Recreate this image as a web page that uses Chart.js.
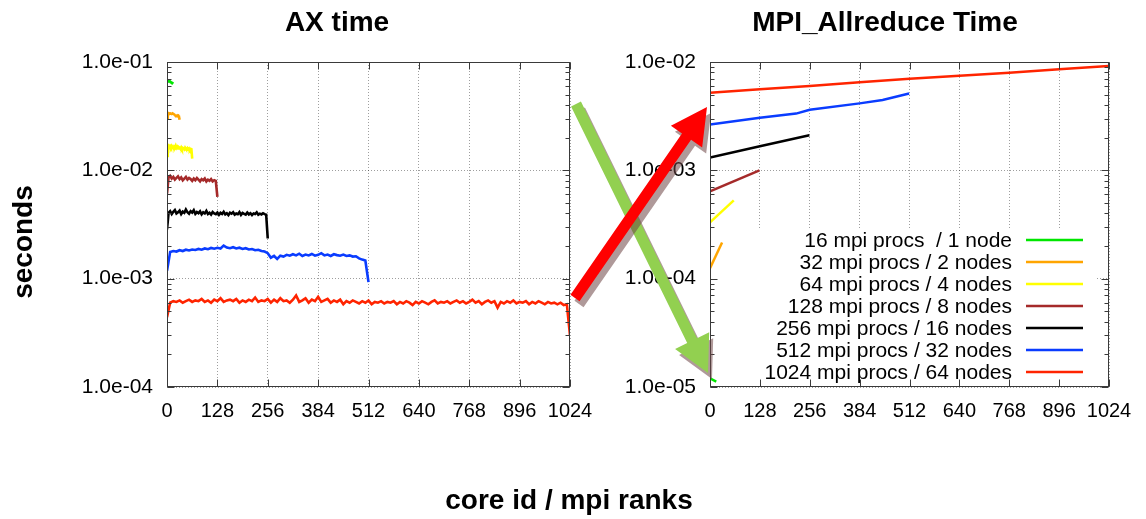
<!DOCTYPE html>
<html><head><meta charset="utf-8">
<script src="https://cdn.jsdelivr.net/npm/chart.js@4/dist/chart.umd.min.js"></script>
<style>
html,body{margin:0;padding:0;background:#fff;width:1146px;height:519px;overflow:hidden;}
#wrap{position:relative;width:1146px;height:519px;font-family:"Liberation Sans",Arial,Helvetica,sans-serif;}
canvas{position:absolute;top:0;}
#c1{left:0;z-index:1;} #c2{left:580px;}
#overlay{left:0;pointer-events:none;z-index:5;}
.lbl{position:absolute;font-weight:bold;font-size:28px;line-height:28px;color:#000;white-space:nowrap;transform:translateX(-50%);z-index:2;}
#ylab{transform:translate(-50%,-50%) rotate(-90deg);}
</style></head>
<body><div id="wrap">
<div class="lbl" style="left:337px;top:8px;">AX time</div>
<div class="lbl" style="left:885px;top:8px;">MPI_Allreduce Time</div>
<div class="lbl" style="left:569px;top:486px;">core id / mpi ranks</div>
<div class="lbl" id="ylab" style="left:23px;top:242px;">seconds</div>
<canvas id="c1" width="610" height="519"></canvas>
<canvas id="c2" width="566" height="519"></canvas>
<canvas id="overlay" width="1146" height="519"></canvas>
</div>
<script>
// ---------- data ----------
const seriesLabels = ['16 mpi procs  / 1 node','32 mpi procs / 2 nodes','64 mpi procs / 4 nodes','128 mpi procs / 8 nodes','256 mpi procs / 16 nodes','512 mpi procs / 32 nodes','1024 mpi procs / 64 nodes'];
const xTickValues = [0,128,256,384,512,640,768,896,1024];
const axYTicks = [1e-4,1e-3,1e-2,1e-1];
const mpiYTicks = [1e-5,1e-4,1e-3,1e-2];

// AX time per core id (milliseconds), sampled every axStep ranks
const axStep = [2,2,2,4,4,8,8];
const axTime16 = [68.0,67.2,66.5,66.8,65.9,65.0,64.6,63.8,63.0];
const axTime32 = [30.3,33.0,33.6,33.2,33.5,33.4,33.1,33.6,33.3,32.9,32.6,31.8,32.0,31.7,32.2,31.9,29.3];
const axTime64 = [13.6,16.6,16.9,16.3,16.7,16.2,16.8,16.4,16.0,16.6,16.3,16.9,16.1,16.5,15.9,16.4,16.2,15.8,16.3,15.7,16.1,15.9,15.6,16.2,15.8,15.5,16.0,15.6,15.9,15.4,15.8,15.7,12.8];
const axTime128 = [6.1,8.6,8.9,8.4,8.7,8.2,8.5,8.8,8.3,8.6,8.1,8.4,8.7,8.2,8.5,8.3,8.0,8.4,8.1,8.5,8.2,7.9,8.3,8.1,8.4,7.9,8.2,8.0,8.3,7.9,8.1,8.0,5.7];
const axTime256 = [2.85,4.05,4.20,3.95,4.15,4.30,4.00,4.10,4.25,3.95,4.15,4.05,4.35,4.10,3.98,4.20,4.08,4.28,3.96,4.12,4.02,4.18,3.92,4.10,4.00,4.22,3.95,4.06,3.90,4.12,4.00,3.94,4.08,3.88,4.05,3.96,4.14,3.92,4.02,3.86,4.06,3.98,4.10,3.90,4.00,3.94,4.12,3.88,4.04,3.96,3.90,4.08,3.92,4.02,3.86,4.00,3.95,4.10,3.90,3.98,3.92,4.02,3.94,3.90,2.35];
const axTime512 = [1.18,1.76,1.80,1.78,1.83,1.80,1.85,1.82,1.86,1.84,1.88,1.85,1.90,1.87,1.92,1.89,1.93,1.90,2.02,1.94,1.91,1.95,1.90,1.93,1.88,1.91,1.86,1.88,1.83,1.85,1.80,1.78,1.72,1.56,1.62,1.52,1.63,1.60,1.66,1.63,1.68,1.64,1.70,1.62,1.67,1.64,1.69,1.63,1.66,1.72,1.64,1.67,1.62,1.68,1.65,1.63,1.67,1.62,1.64,1.60,1.61,1.54,1.50,1.47,0.93];
const axTime1024 = [0.44,
0.60,0.62,0.61,0.63,0.60,0.62,0.64,0.61,0.63,0.62,
0.65,0.61,0.63,0.60,0.64,0.62,0.66,0.61,0.63,0.64,
0.62,0.65,0.60,0.63,0.61,0.64,0.62,0.67,0.61,0.63,
0.62,0.65,0.60,0.64,0.61,0.66,0.62,0.63,0.60,0.64,
0.70,0.61,0.63,0.66,0.60,0.64,0.62,0.68,0.61,0.63,
0.65,0.60,0.63,0.61,0.64,0.58,0.62,0.60,0.63,0.61,
0.59,0.62,0.60,0.63,0.58,0.61,0.60,0.62,0.59,0.61,
0.60,0.62,0.58,0.61,0.59,0.62,0.60,0.57,0.61,0.59,
0.62,0.60,0.58,0.61,0.63,0.59,0.61,0.60,0.62,0.59,
0.61,0.63,0.60,0.62,0.59,0.61,0.64,0.60,0.62,0.58,
0.61,0.63,0.60,0.62,0.54,0.61,0.59,0.62,0.60,0.63,
0.59,0.61,0.60,0.62,0.58,0.61,0.59,0.62,0.60,0.58,
0.61,0.59,0.60,0.58,0.60,0.57,0.58,
0.30];
const axTimes = [axTime16,axTime32,axTime64,axTime128,axTime256,axTime512,axTime1024];

// MPI_Allreduce time (milliseconds) at given ranks
const mpiRanks16 = [0,16],   mpiTime16 = [0.0120,0.0112];
const mpiRanks32 = [0,31],   mpiTime32 = [0.125,0.216];
const mpiRanks64 = [0,61],   mpiTime64 = [0.331,0.528];
const mpiRanks128 = [0,127], mpiTime128 = [0.64,1.0];
const mpiRanks256 = [0,128,255], mpiTime256 = [1.31,1.67,2.11];
const mpiRanks512 = [0,128,221,256,384,443,511], mpiTime512 = [2.65,3.06,3.34,3.63,4.15,4.46,5.11];
const mpiRanks1024 = [0,128,256,384,512,640,768,896,1023], mpiTime1024 = [5.21,5.6,6.0,6.5,7.0,7.45,7.95,8.55,9.2];
const mpiRanks = [mpiRanks16,mpiRanks32,mpiRanks64,mpiRanks128,mpiRanks256,mpiRanks512,mpiRanks1024];
const mpiTimes = [mpiTime16,mpiTime32,mpiTime64,mpiTime128,mpiTime256,mpiTime512,mpiTime1024];

// ---------- styles ----------
const seriesColors = ['#00e600','#ffa500','#ffff00','#a52a2a','#000000','#0a3cff','#ff2400'];
const FAMILY = '"Liberation Sans", Arial, Helvetica, sans-serif';

function fmtExp(v){
  const e = Math.round(Math.log10(v));
  return '1.0e' + (e<0?'-':'+') + String(Math.abs(e)).padStart(2,'0');
}

const framePlugin = {
  id:'frame',
  afterDatasetsDraw(chart){
    const {ctx, chartArea:a} = chart;
    const x = chart.scales.x, y = chart.scales.y;
    ctx.save();
    ctx.strokeStyle = '#3a3a3a'; ctx.lineWidth = 1;
    const L = Math.round(a.left)+0.5, R = Math.round(a.right)-0.5, T = Math.round(a.top)+0.5, B = Math.round(a.bottom)-0.5;
    ctx.strokeRect(L, T, R-L, B-T);
    ctx.beginPath();
    const e0 = Math.round(Math.log10(y.min)), e1 = Math.round(Math.log10(y.max));
    for (let e=e0; e<=e1; e++){
      for (let k=1; k<=9; k++){
        if (e===e1 && k>1) break;
        const v = k*Math.pow(10,e);
        const py = Math.round(y.getPixelForValue(v))+0.5;
        const len = k===1 ? 7 : 4;
        ctx.moveTo(L, py); ctx.lineTo(L+len, py);
        ctx.moveTo(R, py); ctx.lineTo(R-len, py);
      }
    }
    xTickValues.forEach(v=>{
      const px = Math.round(x.getPixelForValue(v))+0.5;
      ctx.moveTo(px, B); ctx.lineTo(px, B-7);
      ctx.moveTo(px, T); ctx.lineTo(px, T+7);
    });
    ctx.stroke();
    ctx.restore();
  }
};

const legendPlugin = {
  id:'keybox',
  beforeDatasetsDraw(chart){
    const {ctx, chartArea:a} = chart;
    const o = chart.options.plugins.keybox;
    ctx.save();
    ctx.fillStyle = '#fff';
    ctx.fillRect(a.left+1, o.top, o.right - a.left - 1, a.bottom - o.top - 1);
    ctx.restore();
  },
  afterDraw(chart){
    const {ctx} = chart;
    const o = chart.options.plugins.keybox;
    ctx.save();
    ctx.font = '21px ' + FAMILY;
    ctx.textAlign = 'right'; ctx.textBaseline = 'alphabetic';
    chart.data.datasets.forEach((ds,i)=>{
      const ly = o.firstRow + i*o.rowGap;
      ctx.fillStyle = '#000';
      ctx.fillText(ds.label, o.textRight, ly + 7);
      ctx.strokeStyle = ds.borderColor; ctx.lineWidth = 2.5;
      ctx.beginPath(); ctx.moveTo(o.lineFrom, ly); ctx.lineTo(o.lineTo, ly); ctx.stroke();
    });
    ctx.restore();
  }
};

function makeOptions(yMin, yMax, yTicks, yWidth, padRight, extraPlugins){
  return {
    responsive:false, animation:false, devicePixelRatio:1,
    layout:{padding:{left:0, top:62, right:padRight, bottom:0}},
    plugins:Object.assign({legend:{display:false}, tooltip:{enabled:false}, title:{display:false}}, extraPlugins||{}),
    elements:{point:{radius:0}, line:{tension:0}},
    scales:{
      x:{type:'linear', min:0, max:1024,
        afterBuildTicks:s=>{ s.ticks = xTickValues.map(v=>({value:v})); },
        afterFit:s=>{ s.height = 519-387; s.paddingLeft = 0; s.paddingRight = 0; },
        grid:{color:'rgba(0,0,0,0.38)', lineWidth:1, drawTicks:false},
        border:{display:false, dash:[1,2]},
        ticks:{padding:12, color:'#000', font:{size:20, family:FAMILY}, maxRotation:0, autoSkip:false, callback:v=>String(v)}
      },
      y:{type:'logarithmic', min:yMin, max:yMax,
        afterBuildTicks:s=>{ s.ticks = yTicks.map(v=>({value:v})); },
        afterFit:s=>{ s.width = yWidth; s.paddingTop = 0; s.paddingBottom = 0; },
        grid:{color:'rgba(0,0,0,0.38)', lineWidth:1, drawTicks:false},
        border:{display:false, dash:[1,2]},
        ticks:{padding:14, color:'#000', font:{size:21, family:FAMILY}, autoSkip:false, callback:v=>fmtExp(v)}
      }
    }
  };
}

const axDatasets = axTimes.map((vals,i)=>({
  label:seriesLabels[i], borderColor:seriesColors[i], borderWidth:2.6, fill:false,
  data:vals.map((v,j)=>({x:j*axStep[i], y:v/1000}))
}));
const mpiDatasets = mpiTimes.map((vals,i)=>({
  label:seriesLabels[i], borderColor:seriesColors[i], borderWidth:2.5, fill:false,
  data:vals.map((v,j)=>({x:mpiRanks[i][j], y:v/1000}))
}));

new Chart(document.getElementById('c1'), {
  type:'line', data:{datasets:axDatasets},
  options:makeOptions(1e-4, 1e-1, axYTicks, 167, 40),
  plugins:[framePlugin]
});
new Chart(document.getElementById('c2'), {
  type:'line', data:{datasets:mpiDatasets},
  options:makeOptions(1e-5, 1e-2, mpiYTicks, 130, 37,
    {keybox:{top:228, right:1097-580, textRight:1012-580, lineFrom:1026-580, lineTo:1083-580, firstRow:240, rowGap:22}}),
  plugins:[framePlugin, legendPlugin]
});

// ---------- annotation arrows (page pixels) ----------
const arrows = [
  {tail:[576,104], tip:[708,373], color:'#92d050'},
  {tail:[575,298], tip:[707,107], color:'#ff0000'}
];
(function(){
  const ctx = document.getElementById('overlay').getContext('2d');
  function poly(a, dx, dy){
    const [tx,ty]=a.tail, [px,py]=a.tip;
    const L = Math.hypot(px-tx, py-ty), ux=(px-tx)/L, uy=(py-ty)/L, nx=-uy, ny=ux;
    const w=5.5, hl=36, hw=19;
    const bx=px-ux*hl, by=py-uy*hl;
    const pts=[[tx+nx*w,ty+ny*w],[bx+nx*w,by+ny*w],[bx+nx*hw,by+ny*hw],[px,py],[bx-nx*hw,by-ny*hw],[bx-nx*w,by-ny*w],[tx-nx*w,ty-ny*w]];
    ctx.beginPath();
    pts.forEach((p,i)=> i?ctx.lineTo(p[0]+dx,p[1]+dy):ctx.moveTo(p[0]+dx,p[1]+dy));
    ctx.closePath();
  }
  arrows.forEach(a=>{
    poly(a,4,6); ctx.fillStyle='rgba(110,70,70,0.55)'; ctx.fill();
    poly(a,0,0); ctx.fillStyle=a.color; ctx.fill();
  });
})();
</script>
</body></html>
